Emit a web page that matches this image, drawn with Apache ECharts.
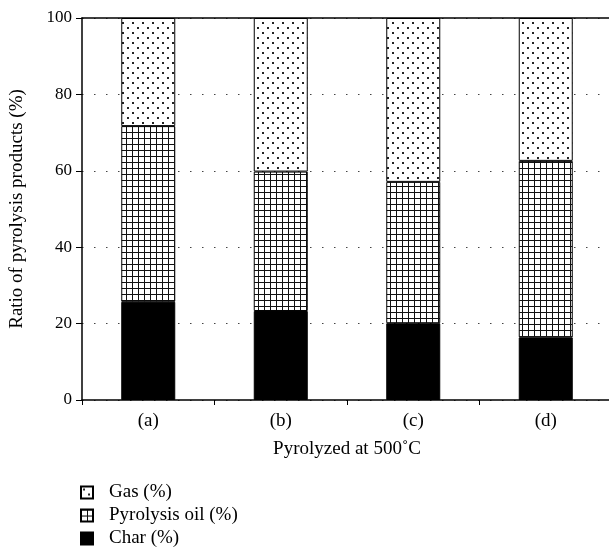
<!DOCTYPE html>
<html>
<head>
<meta charset="utf-8">
<script src="https://cdn.jsdelivr.net/npm/echarts@6/dist/echarts.min.js"></script>
</head>
<body style="margin:0;background:#fff">
<div id="main" style="width:609px;height:560px"></div>
<script>
// data
var categories = ['(a)', '(b)', '(c)', '(d)'];
var charData = [25.7, 23.3, 20.1, 16.4];
var oilData = [46.0, 36.5, 37.0, 46.2];
var gasData = [28.3, 40.2, 42.9, 37.4];
var yTicks = [0, 20, 40, 60, 80, 100];

var font = 'Liberation Serif';

// dotted pattern for gas
function dotPattern() {
    var c = document.createElement('canvas');
    c.width = 10; c.height = 10;
    var ctx = c.getContext('2d');
    ctx.fillStyle = '#fff';
    ctx.fillRect(0, 0, 10, 10);
    ctx.fillStyle = '#222';
    ctx.fillRect(2, 2, 2, 2);
    ctx.fillRect(7, 7, 2, 2);
    return c;
}
// square grid pattern for oil
function gridPattern() {
    var c = document.createElement('canvas');
    c.width = 6; c.height = 6;
    var ctx = c.getContext('2d');
    ctx.fillStyle = '#fff';
    ctx.fillRect(0, 0, 6, 6);
    ctx.fillStyle = '#111';
    ctx.fillRect(0, 0, 6, 1);
    ctx.fillRect(0, 0, 1, 6);
    return c;
}

var chart = echarts.init(document.getElementById('main'));

var option = {
    animation: false,
    backgroundColor: '#fff',
    textStyle: { fontFamily: font, color: '#000' },
    grid: {
        left: 82, right: -3, top: 18, bottom: 160,
        containLabel: false,
        outerBoundsMode: 'none'
    },
    legend: {
        orient: 'vertical',
        left: 80, top: 483,
        padding: 0,
        itemWidth: 12, itemHeight: 12,
        itemGap: 4,
        icon: 'rect',
        data: ['Gas (%)', 'Pyrolysis oil (%)', 'Char (%)'],
        textStyle: { fontSize: 19, lineHeight: 19, color: '#000', fontFamily: font, padding: [0, 0, 0, 11] }
    },
    xAxis: [{
        type: 'category',
        data: categories,
        name: 'Pyrolyzed at 500˚C',
        nameLocation: 'middle',
        nameGap: 40,
        nameTextStyle: { fontSize: 19, color: '#000', fontFamily: font },
        axisLine: { lineStyle: { color: '#000', width: 1.5 } },
        axisTick: { show: true, interval: 0, length: 5, lineStyle: { color: '#000' } },
        axisLabel: { fontSize: 19, color: '#000', margin: 12, fontFamily: font }
    }, {
        type: 'category',
        position: 'top',
        data: categories,
        axisLine: { show: true, lineStyle: { color: '#000', width: 1.5 } },
        axisTick: { show: false },
        axisLabel: { show: false }
    }],
    yAxis: {
        type: 'value',
        min: yTicks[0],
        max: yTicks[yTicks.length - 1],
        interval: 20,
        name: 'Ratio of pyrolysis products (%)',
        nameLocation: 'middle',
        nameGap: 55,
        nameTextStyle: { fontSize: 19, color: '#000', fontFamily: font },
        axisLine: { show: true, lineStyle: { color: '#000', width: 1.5 } },
        axisTick: { show: true, length: 6, lineStyle: { color: '#000' } },
        axisLabel: { fontSize: 17, color: '#000', margin: 10, fontFamily: font },
        splitLine: { show: true, lineStyle: { color: '#444', type: [1.5, 10.5], width: 1 } }
    },
    series: [{
        name: 'Char (%)',
        type: 'bar',
        stack: 'total',
        barWidth: 54,
        data: charData,
        itemStyle: { color: '#000', borderColor: '#000', borderWidth: 1 }
    }, {
        name: 'Pyrolysis oil (%)',
        type: 'bar',
        stack: 'total',
        barWidth: 54,
        data: oilData,
        itemStyle: { color: { image: gridPattern(), repeat: 'repeat' }, borderColor: '#000', borderWidth: 1 }
    }, {
        name: 'Gas (%)',
        type: 'bar',
        stack: 'total',
        barWidth: 54,
        data: gasData,
        itemStyle: { color: { image: dotPattern(), repeat: 'repeat' }, borderColor: '#000', borderWidth: 1 }
    }]
};

chart.setOption(option);
window.onresize = function () {
    chart.resize();
};
</script>
</body>
</html>
